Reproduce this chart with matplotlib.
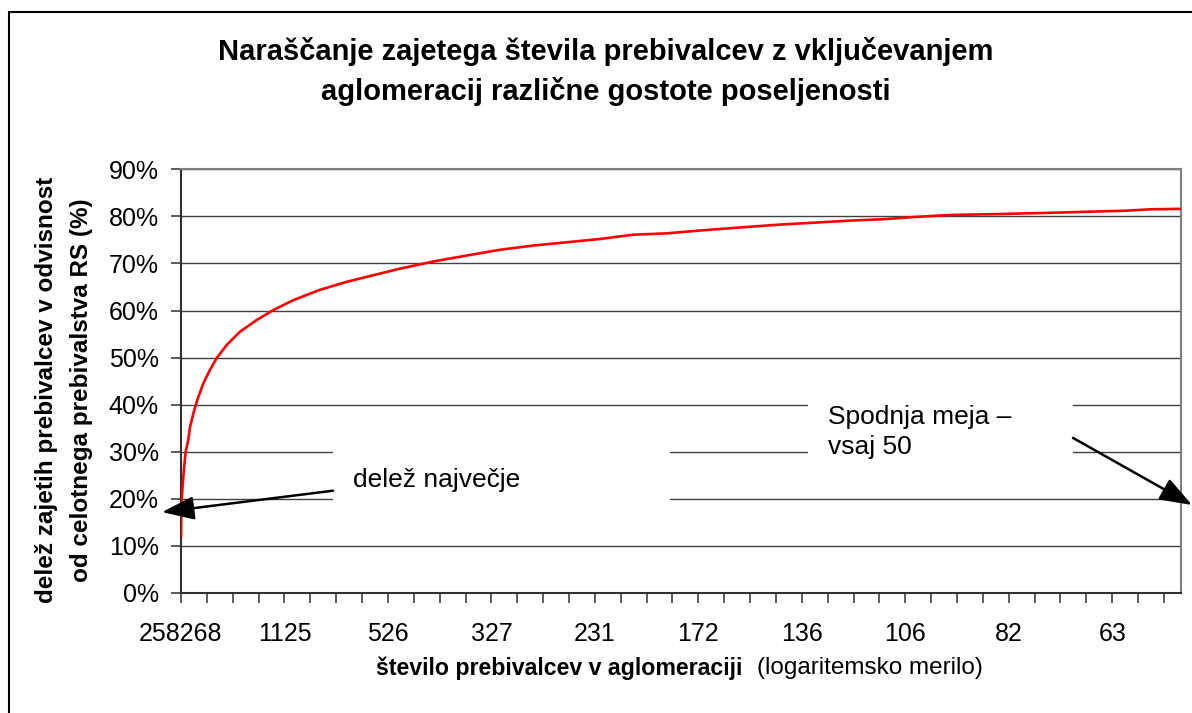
import numpy as np
import matplotlib
matplotlib.use("Agg")
import matplotlib.pyplot as plt
from matplotlib.patches import Rectangle

plt.rcParams['font.family'] = ['Liberation Sans', 'DejaVu Sans']

# rank of agglomeration (sorted by population, largest first) and cumulative share (%)
rank = [0, 1, 2, 3, 5, 9, 13, 18, 28, 35, 48, 63, 86, 112, 138, 177, 228, 293,
        357, 434, 537, 641, 743, 847, 974, 1106, 1233, 1361, 1492, 1620, 1747,
        1879, 2006, 2200, 2327, 2459, 2586, 2714, 2845, 2973, 3166, 3390, 3514,
        3650, 3746, 3866]
share = [12.0, 15.8, 18.0, 19.7, 21.8, 24.7, 27.2, 30.0, 32.5, 35.3, 38.2, 41.0,
         44.5, 47.4, 49.9, 52.7, 55.5, 58.0, 60.1, 62.2, 64.4, 66.1, 67.5, 68.9,
         70.4, 71.7, 72.9, 73.8, 74.5, 75.2, 76.1, 76.4, 77.0, 77.8, 78.3, 78.7,
         79.1, 79.4, 79.9, 80.3, 80.5, 80.8, 81.0, 81.2, 81.5, 81.6]

# population of the agglomeration at every 400th rank
tick_labels = ["258268", "1125", "526", "327", "231", "172", "136", "106", "82", "63"]
n_agglo = 3867

fig = plt.figure(figsize=(11.92, 7.13), dpi=100)
ax = fig.add_axes([181/1192, 1-593/713, 1000/1192, (593-169.3)/713])

ax.plot(rank, share, color="red", lw=1.9, zorder=5)

ax.set_xlim(0, n_agglo - 1)
ax.set_ylim(0, 90)
ax.set_yticks(np.arange(0, 91, 10))
ax.set_yticklabels([f"{v}%" for v in range(0, 91, 10)])
ax.set_xticks(np.arange(0, 400 * len(tick_labels), 400))
ax.set_xticklabels(tick_labels)
ax.set_xticks(np.arange(0, n_agglo, 100), minor=True)

ax.grid(axis="y", color="#404040", lw=1.0, zorder=1)
ax.set_axisbelow(True)
ax.tick_params(axis="both", which="both", direction="out", length=7, width=1.2,
               color="#404040", labelsize=18)
ax.tick_params(axis="y", pad=9)
ax.tick_params(axis="x", pad=14)
for s in ["left", "bottom"]:
    ax.spines[s].set_color("#303030")
    ax.spines[s].set_linewidth(1.5)
for s in ["top", "right"]:
    ax.spines[s].set_color("#808080")
    ax.spines[s].set_linewidth(1.5)

# white text boxes hiding gridlines
ax.add_patch(Rectangle((0.152, 0.15), 0.337, 0.27, transform=ax.transAxes,
                       facecolor="white", edgecolor="none", zorder=2))
ax.add_patch(Rectangle((0.627, 0.24), 0.265, 0.28, transform=ax.transAxes,
                       facecolor="white", edgecolor="none", zorder=2))

ax.text(0.172, 0.267, "delež največje", transform=ax.transAxes, fontsize=19,
        ha="left", va="center", zorder=6)
ax.text(0.647, 0.38, "Spodnja meja –\nvsaj 50", transform=ax.transAxes, fontsize=19,
        ha="left", va="center", linespacing=1.35, zorder=6)

arrow = dict(arrowstyle="-|>,head_length=1.1,head_width=0.4", mutation_scale=18,
             lw=1.8, color="black", shrinkA=0, shrinkB=0)
ax.annotate("", xy=(-0.019, 0.191), xytext=(0.152, 0.2414), xycoords="axes fraction",
            arrowprops=arrow, annotation_clip=False, zorder=7)
ax.annotate("", xy=(1.011, 0.2077), xytext=(0.892, 0.366), xycoords="axes fraction",
            arrowprops=arrow, annotation_clip=False, zorder=7)

fig.text(0.508, 1-52/713, "Naraščanje zajetega števila prebivalcev z vključevanjem",
         ha="center", va="center", fontsize=21, fontweight="bold")
fig.text(0.508, 1-92/713, "aglomeracij različne gostote poseljenosti",
         ha="center", va="center", fontsize=21, fontweight="bold")

fig.text(47/1192, 1-390/713, "delež zajetih prebivalcev v odvisnost",
         rotation=90, ha="center", va="center", fontsize=17.5, fontweight="bold")
fig.text(82/1192, 1-390/713, "od celotnega prebivalstva RS (%)",
         rotation=90, ha="center", va="center", fontsize=17.5, fontweight="bold")

fig.text(742/1192, 1-668/713, "število prebivalcev v aglomeraciji",
         ha="right", va="center", fontsize=16.7, fontweight="bold")
fig.text(757/1192, 1-668/713, "(logaritemsko merilo)",
         ha="left", va="center", fontsize=17.5)

fig.add_artist(Rectangle((9/1192, -0.1), 1.2, 1.1 - 12/713, transform=fig.transFigure,
                         fill=False, edgecolor="black", lw=1.5))

fig.savefig("out.png", dpi=100)
